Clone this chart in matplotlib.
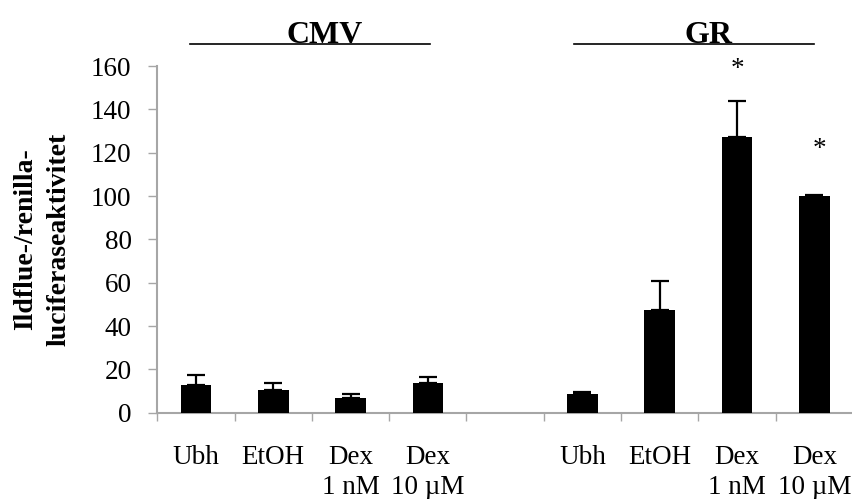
import matplotlib
matplotlib.use("Agg")
import matplotlib.pyplot as plt
import numpy as np

plt.rcParams['font.family'] = ['Liberation Serif', 'DejaVu Serif']

categories = ["Ubh", "EtOH", "Dex\n1 nM", "Dex\n10 µM", "", "Ubh", "EtOH", "Dex\n1 nM", "Dex\n10 µM"]
values = [12.9, 10.5, 6.8, 13.8, np.nan, 8.5, 47.4, 127.4, 100.0]
errors = [4.5, 3.3, 2.0, 2.7, np.nan, 1.2, 13.5, 16.3, 0.5]
star_idx = [7, 8]
star_y = [158.5, 121.5]
groups = ["CMV", "GR"]
yticks = [0, 20, 40, 60, 80, 100, 120, 140, 160]

fig = plt.figure(figsize=(8.53, 4.99), dpi=100)
ax = fig.add_axes([0.1844, 0.1729, 0.8156, 0.6948])

x = np.arange(len(categories)) + 0.5
vals = np.array(values, dtype=float)
errs = np.array(errors, dtype=float)
mask = ~np.isnan(vals)
ax.bar(x[mask], vals[mask], width=0.396, color="black", zorder=3)
ax.errorbar(x[mask], vals[mask], yerr=[np.zeros(mask.sum()), errs[mask]],
            fmt="none", ecolor="black", elinewidth=1.6, capsize=6.5, capthick=1.6, zorder=2)

ax.set_xlim(0, len(categories))
ax.set_ylim(0, 160)
ax.set_yticks(yticks)
ax.set_yticklabels([str(t) for t in yticks], fontsize=19.5)
ax.tick_params(axis="y", direction="out", length=6.5, width=1, color="#a6a6a6", pad=12)

ax.set_xticks(x)
ax.set_xticklabels(categories, fontsize=19.5, linespacing=1.3)
ax.set_xticks(np.arange(0, len(categories) + 1), minor=True)
ax.tick_params(axis="x", which="major", length=0, pad=23)
ax.tick_params(axis="x", which="minor", direction="out", length=6, width=1, color="#a6a6a6")

for s in ["top", "right"]:
    ax.spines[s].set_visible(False)
for s in ["left", "bottom"]:
    ax.spines[s].set_color("#a6a6a6")
    ax.spines[s].set_linewidth(1.5)

for i, yv in zip(star_idx, star_y):
    dx = 0.07 if i == 8 else 0.0
    ax.text(x[i] + dx, yv, "*", ha="center", va="center", fontsize=19.5)

ax.set_ylabel("Ildflue-/renilla-\nluciferaseaktivitet", fontsize=20, fontweight="bold",
              linespacing=1.45)
ax.yaxis.set_label_coords(-0.1235, 0.5)

# group headers
fig.text(325 / 853, 1 - 43 / 499, groups[0], ha="center", va="baseline",
         fontsize=23, fontweight="bold")
fig.text(709 / 853, 1 - 43 / 499, groups[1], ha="center", va="baseline",
         fontsize=23, fontweight="bold")
fig.add_artist(plt.Line2D([190 / 853, 430 / 853], [1 - 44 / 499, 1 - 44 / 499],
                          color="black", lw=1.2))
fig.add_artist(plt.Line2D([574 / 853, 814 / 853], [1 - 44 / 499, 1 - 44 / 499],
                          color="black", lw=1.2))

fig.savefig("out.png", dpi=100)
